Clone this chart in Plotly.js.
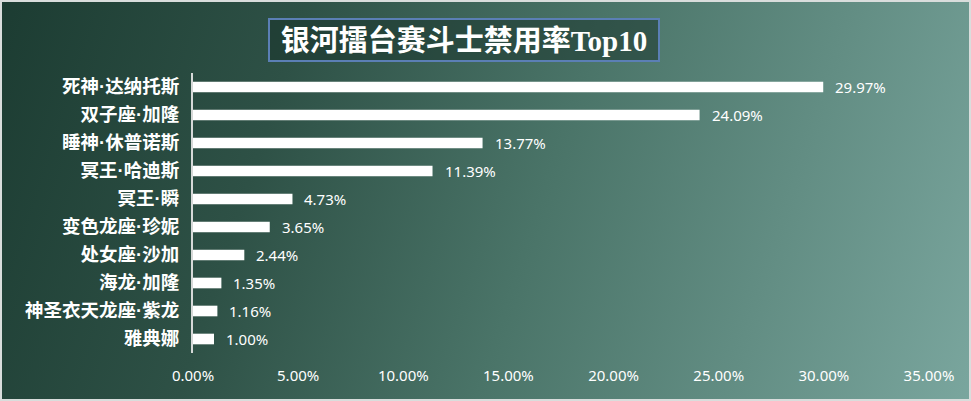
<!DOCTYPE html>
<html>
<head>
<meta charset="utf-8">
<script src="https://cdn.plot.ly/plotly-3.0.1.min.js"></script>
<style>
html,body{margin:0;padding:0;}
#chart{width:971px;height:401px;box-shadow:inset 0 0 0 2px #d9dddc;
background:linear-gradient(108deg,#1c3c32 0%,#2e5146 28%,#4a7468 55%,#7aa69e 100%);}
</style>
</head>
<body>
<div id="chart"></div>
<script>
const categories = ["死神·达纳托斯","双子座·加隆","睡神·休普诺斯","冥王·哈迪斯","冥王·瞬","变色龙座·珍妮","处女座·沙加","海龙·加隆","神圣衣天龙座·紫龙","雅典娜"];
const banRates = [29.97, 24.09, 13.77, 11.39, 4.73, 3.65, 2.44, 1.35, 1.16, 1.00];
const xTicks = [0,5,10,15,20,25,30,35];
const titleText = "银河擂台赛斗士禁用率Top10";

const trace = {
  type: "bar",
  orientation: "h",
  x: banRates,
  y: categories,
  width: 0.38,
  marker: {color: "#ffffff"},
  hoverinfo: "none"
};

const annotations = banRates.map((v, i) => ({
  x: v, y: categories[i], xref: "x", yref: "y",
  text: v.toFixed(2) + "%", showarrow: false,
  xanchor: "left", xshift: 10,
  font: {family: "Noto Sans, sans-serif", size: 15, color: "#ffffff"}
}));
annotations.push({
  xref: "paper", yref: "paper", x: (464 - 193) / (929 - 193), y: 1, yshift: 11,
  yanchor: "bottom", xanchor: "center",
  text: "<b>" + titleText + "</b>", showarrow: false,
  width: 386, height: 38, align: "center", valign: "middle",
  font: {family: "Liberation Serif, Noto Sans CJK SC, serif", size: 29, color: "#ffffff"},
  bgcolor: "rgba(22,48,40,0.5)", bordercolor: "#5b7fb5", borderwidth: 2, borderpad: 1
});

const tickLabels = categories.map(c => c.replace("·", '<span style="font-family:Liberation Sans">·</span>'));

const layout = {
  width: 971, height: 401,
  paper_bgcolor: "rgba(0,0,0,0)", plot_bgcolor: "rgba(0,0,0,0)",
  margin: {l: 193, r: 42, t: 73, b: 48},
  showlegend: false,
  xaxis: {
    range: [0, 35], tickvals: xTicks, ticktext: xTicks.map(t => t.toFixed(2) + "%"),
    showgrid: false, zeroline: false, showline: false,
    tickfont: {family: "Noto Sans, sans-serif", size: 15, color: "#ffffff"},
    ticks: "outside", ticklen: 9, tickcolor: "rgba(0,0,0,0)"
  },
  yaxis: {
    type: "category", autorange: "reversed",
    tickvals: categories, ticktext: tickLabels,
    showgrid: false, zeroline: false, showline: true, linecolor: "#d6d9d8", linewidth: 2,
    tickfont: {family: "Noto Sans CJK SC, sans-serif", size: 18.5, color: "#ffffff", weight: "bold"},
    ticks: "outside", ticklen: 8, tickcolor: "rgba(0,0,0,0)"
  },
  annotations: annotations
};

Plotly.newPlot("chart", [trace], layout, {displayModeBar: false, staticPlot: true});
</script>
</body>
</html>
